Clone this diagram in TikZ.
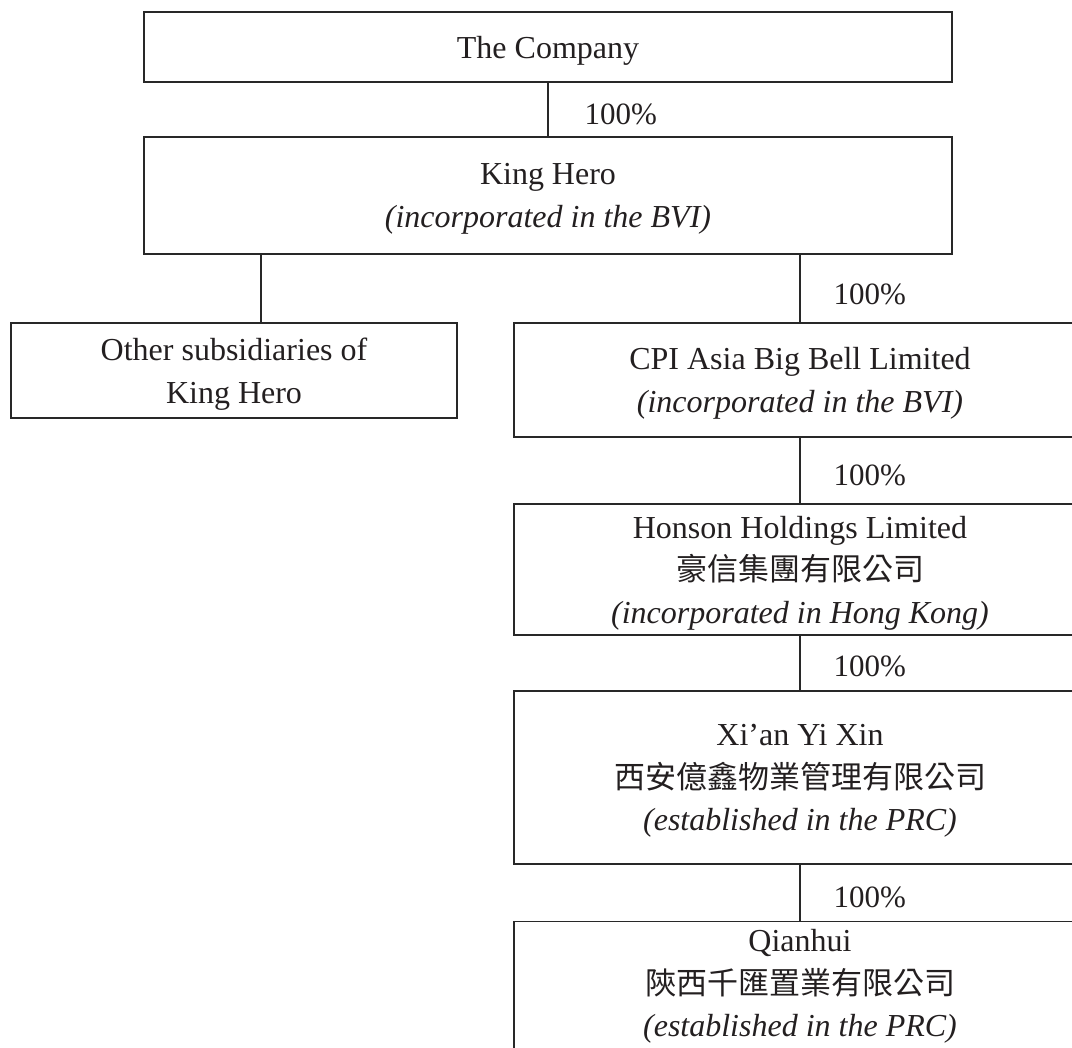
\documentclass[tikz,border=0pt]{standalone}
\usepackage{fontspec}
\setmainfont{Liberation Serif}
\newfontfamily\cjk{Noto Sans CJK TC}
\definecolor{linec}{RGB}{40,40,40}
\definecolor{txt}{RGB}{35,31,32}
\begin{document}
\begin{tikzpicture}[x=1pt,y=-1pt,
  box/.style={draw=linec, line width=1.4pt, align=center, inner sep=0pt, text depth=0pt,
    font=\fontsize{32}{42.5}\selectfont, text=txt},
  plain/.style={align=center, inner sep=0pt, text depth=0pt, font=\fontsize{32}{42.5}\selectfont, text=txt},
  pct/.style={anchor=west, inner sep=0pt, font=\fontsize{31}{36}\selectfont, text=txt},
  conn/.style={draw=linec, line width=1.4pt}]
\useasboundingbox (0,0) rectangle (1072,1048);
\clip (0,0) rectangle (1072,1048);
% boxes
\node[box, minimum width=808pt, minimum height=70pt] (co) at (548,47) {The Company};
\node[box, minimum width=808pt, minimum height=117pt] (kh) at (548,195.5)
  {King Hero\\\textit{(incorporated in the BVI)}};
\node[box, minimum width=446pt, minimum height=95pt] (oth) at (234,370.5)
  {Other subsidiaries of\\King Hero};
\node[box, minimum width=572pt, minimum height=114pt] (cpi) at (800,380)
  {CPI Asia Big Bell Limited\\\textit{(incorporated in the BVI)}};
\node[box, minimum width=572pt, minimum height=131pt] (hon) at (800,569.5)
  {Honson Holdings Limited\\{\cjk\fontsize{31}{42.5}\selectfont 豪信集團有限公司}\\\textit{(incorporated in Hong Kong)}};
\node[box, minimum width=572pt, minimum height=173pt] (xian) at (800,777.5)
  {Xi’an Yi Xin\\{\cjk\fontsize{31}{42.5}\selectfont 西安億鑫物業管理有限公司}\\\textit{(established in the PRC)}};
\node[box, minimum width=572pt, minimum height=180pt, anchor=north] (qh) at (800,921) {};
\node[plain] (qht) at (800,983)
  {Qianhui\\{\cjk\fontsize{31}{42.5}\selectfont 陝西千匯置業有限公司}\\\textit{(established in the PRC)}};
% connectors
\coordinate (othtop) at (261,323);
\draw[conn] (co.south) -- node[pct, xshift=36pt, yshift=-5pt] {100\%} (kh.north);
\draw[conn] (othtop |- kh.south) -- (othtop);
\draw[conn] (cpi.north |- kh.south) -- node[pct, xshift=33pt, yshift=-6pt] {100\%} (cpi.north);
\draw[conn] (cpi.south) -- node[pct, xshift=33pt, yshift=-5pt] {100\%} (hon.north);
\draw[conn] (hon.south) -- node[pct, xshift=33pt, yshift=-3pt] {100\%} (xian.north);
\draw[conn] (xian.south) -- node[pct, xshift=33pt, yshift=-5pt] {100\%} (qh.north);
\end{tikzpicture}
\end{document}
